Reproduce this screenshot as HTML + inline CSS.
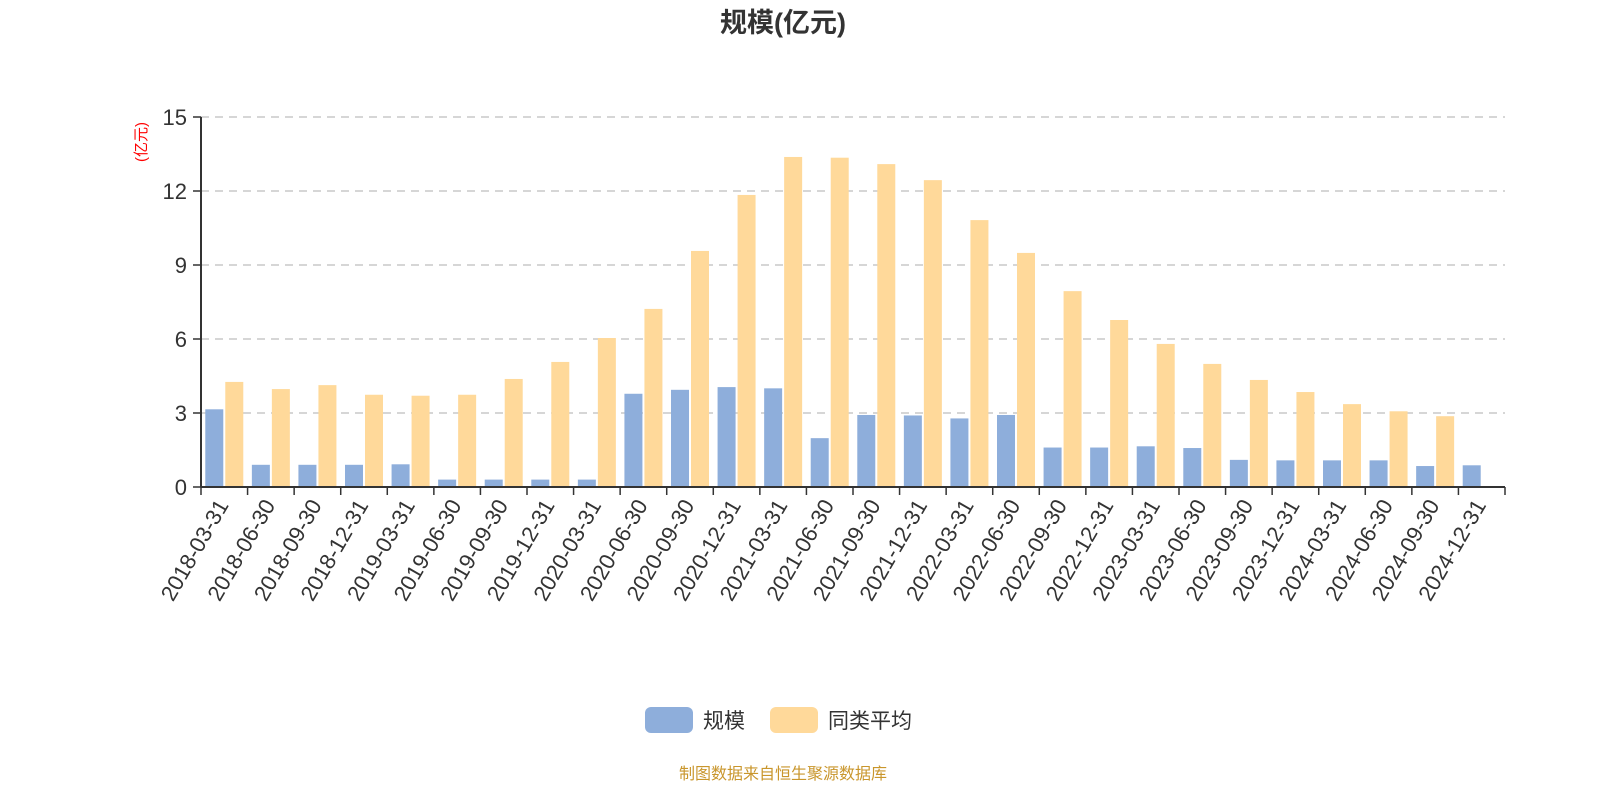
<!DOCTYPE html>
<html><head><meta charset="utf-8"><style>
body{margin:0;background:#fff;width:1600px;height:800px;overflow:hidden;font-family:"Liberation Sans","Noto Sans CJK SC",sans-serif;}
</style></head><body>
<svg id="chart" width="1600" height="800" xmlns="http://www.w3.org/2000/svg" font-family="Liberation Sans, Noto Sans CJK SC, sans-serif">
<text x="783" y="32" text-anchor="middle" font-size="27" font-weight="bold" fill="#333">规模(亿元)</text>
<text transform="translate(146,142) rotate(-90)" text-anchor="middle" font-size="15" fill="#f00">(亿元)</text>
<g id="grid"></g><g id="bars"></g><g id="axes"></g>
<g>
<rect x="645" y="707" width="48" height="26" rx="6" fill="#8eaedb"/>
<text x="703" y="728" font-size="21" fill="#333">规模</text>
<rect x="770" y="707" width="48" height="26" rx="6" fill="#ffd99a"/>
<text x="828" y="728" font-size="21" fill="#333">同类平均</text>
</g>
<text x="783" y="779" text-anchor="middle" font-size="16" fill="#c9962c">制图数据来自恒生聚源数据库</text>
</svg>
<script>
const categories=["2018-03-31","2018-06-30","2018-09-30","2018-12-31","2019-03-31","2019-06-30","2019-09-30","2019-12-31","2020-03-31","2020-06-30","2020-09-30","2020-12-31","2021-03-31","2021-06-30","2021-09-30","2021-12-31","2022-03-31","2022-06-30","2022-09-30","2022-12-31","2023-03-31","2023-06-30","2023-09-30","2023-12-31","2024-03-31","2024-06-30","2024-09-30","2024-12-31"];
const scaleValues=[3.15,0.9,0.9,0.9,0.92,0.3,0.3,0.3,0.3,3.78,3.94,4.05,4.0,1.98,2.92,2.9,2.78,2.92,1.6,1.6,1.65,1.58,1.1,1.08,1.08,1.08,0.85,0.88];
const avgValues=[4.26,3.97,4.13,3.74,3.7,3.74,4.38,5.07,6.04,7.22,9.57,11.84,13.38,13.35,13.09,12.44,10.82,9.49,7.94,6.77,5.8,4.99,4.34,3.85,3.36,3.07,2.87,null];
const yTicks=[0,3,6,9,12,15];
const NS="http://www.w3.org/2000/svg";
const X0=201,X1=1505,Y0=487,Y1=117,YMAX=15;
const bw=(X1-X0)/categories.length;
const y=v=>Y0-(v/YMAX)*(Y0-Y1);
const x=i=>X0+i*bw;
function mk(tag,attrs,parent,txt){const e=document.createElementNS(NS,tag);for(const k in attrs)e.setAttribute(k,attrs[k]);if(txt!==undefined)e.textContent=txt;parent.appendChild(e);return e;}
const grid=document.getElementById('grid'),bars=document.getElementById('bars'),axes=document.getElementById('axes');
yTicks.forEach(t=>{
 if(t>0){const l=mk('line',{x1:X0,x2:X1,y1:y(t),y2:y(t),stroke:'#c8c8c8','stroke-width':1.5,'stroke-dasharray':'8,6'},grid);
 
 }
 const tk=mk('line',{x1:X0-8,x2:X0,y1:y(t),y2:y(t),stroke:'#333','stroke-width':1.5},axes);
 
 
 const tx=mk('text',{x:X0-14,y:y(t)+8,'text-anchor':'end','font-size':22,fill:'#333'},axes,String(t));
 
 
});
const barW=18;
categories.forEach((c,i)=>{
 const cx=x(i)+bw/2;
 const v1=scaleValues[i];
 if(v1!=null){const r=mk('rect',{x:cx-barW-1,y:y(v1),width:barW,height:Y0-y(v1),fill:'#8eaedb'},bars);
 
 }
 const v2=avgValues[i];
 if(v2!=null){const r=mk('rect',{x:cx+1,y:y(v2),width:barW,height:Y0-y(v2),fill:'#ffd99a'},bars);
 
 }
 const tk=mk('line',{x1:x(i),x2:x(i),y1:Y0,y2:Y0+8,stroke:'#333','stroke-width':1.5},axes);
 
 
 const lb=mk('text',{transform:`translate(${cx+5},${Y0+18}) rotate(-60)`,'text-anchor':'end','font-size':22,fill:'#333'},axes,c);
 
 
});
const lastTick=mk('line',{x1:X1,x2:X1,y1:Y0,y2:Y0+8,stroke:'#333','stroke-width':1.5},axes);


const xa=mk('line',{x1:X0,x2:X1,y1:Y0,y2:Y0,stroke:'#333','stroke-width':2},axes);


const ya=mk('line',{x1:X0,x2:X0,y1:Y1,y2:Y0,stroke:'#333','stroke-width':2},axes);


</script>
</body></html>
